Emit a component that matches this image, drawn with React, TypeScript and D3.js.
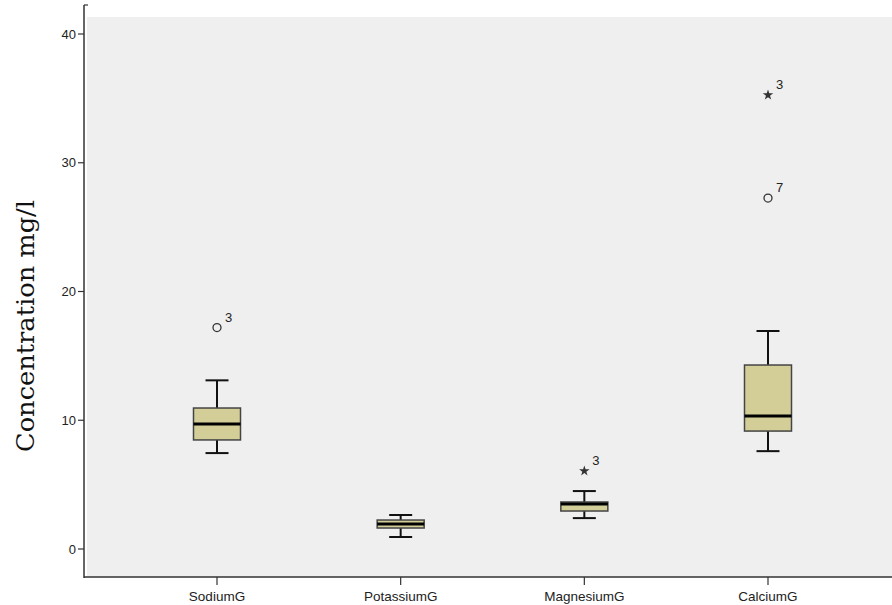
import React from "react";
import * as d3 from "d3";

const categories = ["SodiumG", "PotassiumG", "MagnesiumG", "CalciumG"];
const lowerWhisker = [7.45, 0.93, 2.4, 7.6];
const q1 = [8.47, 1.63, 2.95, 9.16];
const median = [9.7, 1.94, 3.5, 10.33];
const q3 = [10.95, 2.25, 3.65, 14.29];
const upperWhisker = [13.1, 2.64, 4.5, 16.93];
// outliers: category, value, label, kind
const outlierCat = ["SodiumG", "MagnesiumG", "CalciumG", "CalciumG"];
const outlierValue = [17.2, 6.06, 35.26, 27.26];
const outlierLabel = ["3", "3", "3", "7"];
const outlierKind = ["circle", "star", "star", "circle"];
const yTicks = [0, 10, 20, 30, 40];

const W = 892;
const H = 605;

export default function App() {
  const y = d3.scaleLinear().domain([0, 40]).range([549, 34]);
  const x = d3.scalePoint<string>().domain(categories).range([217, 768]);
  const boxW = 47;
  const capW = 23;
  const axisX = 84;
  const axisY = 577;
  const tickFont = "'Liberation Sans Narrow', 'Arial Narrow', 'Liberation Sans', Arial, sans-serif";
  const starPath = d3.symbol(d3.symbolStar, 34)() as string;

  return (
    <svg width={W} height={H} style={{ position: "absolute", left: 0, top: 0, background: "#fff" }}>
      <rect x={axisX + 3} y={17} width={W - axisX - 3} height={axisY - 17} fill="#efefef" />
      {/* y axis */}
      <line x1={axisX} x2={axisX} y1={5} y2={axisY + 1} stroke="#333" strokeWidth={1.5} />
      <line x1={axisX} x2={axisX + 4} y1={5} y2={5} stroke="#333" strokeWidth={1.2} />
      {yTicks.map((t) => (
        <g key={t}>
          <line x1={axisX - 6} x2={axisX} y1={y(t)} y2={y(t)} stroke="#333" strokeWidth={1.2} />
          <text x={axisX - 8} y={y(t)} dy="0.35em" textAnchor="end" fontSize={13} fontFamily={tickFont} fill="#222">
            {t}
          </text>
        </g>
      ))}
      {/* x axis */}
      <line x1={axisX} x2={W} y1={axisY} y2={axisY} stroke="#333" strokeWidth={1.5} />
      {categories.map((c) => (
        <g key={c}>
          <line x1={x(c)} x2={x(c)} y1={axisY} y2={axisY + 8} stroke="#333" strokeWidth={1.2} />
          <text x={x(c)} y={596} dy="0.35em" textAnchor="middle" fontSize={13.5} fontFamily={tickFont} fill="#222">
            {c}
          </text>
        </g>
      ))}
      {/* y label */}
      <text
        transform={`translate(34,${(200 + 452) / 2}) rotate(-90)`}
        textAnchor="middle"
        fontSize={24}
        fontFamily="'DejaVu Serif', 'Liberation Serif', serif"
        fill="#111"
        textLength={252}
        lengthAdjust="spacingAndGlyphs"
      >
        Concentration mg/l
      </text>
      {/* boxes */}
      {categories.map((c, i) => {
        const cx = x(c)!;
        return (
          <g key={c}>
            <line x1={cx} x2={cx} y1={y(upperWhisker[i])} y2={y(q3[i])} stroke="#111" strokeWidth={2} />
            <line x1={cx} x2={cx} y1={y(q1[i])} y2={y(lowerWhisker[i])} stroke="#111" strokeWidth={2} />
            <line x1={cx - capW / 2} x2={cx + capW / 2} y1={y(upperWhisker[i])} y2={y(upperWhisker[i])} stroke="#111" strokeWidth={2} />
            <line x1={cx - capW / 2} x2={cx + capW / 2} y1={y(lowerWhisker[i])} y2={y(lowerWhisker[i])} stroke="#111" strokeWidth={2} />
            <rect
              x={cx - boxW / 2}
              y={y(q3[i])}
              width={boxW}
              height={y(q1[i]) - y(q3[i])}
              fill="#d3ce98"
              stroke="#444"
              strokeWidth={1.5}
            />
            <line x1={cx - boxW / 2} x2={cx + boxW / 2} y1={y(median[i])} y2={y(median[i])} stroke="#000" strokeWidth={3} />
          </g>
        );
      })}
      {/* outliers */}
      {outlierValue.map((v, i) => {
        const cx = x(outlierCat[i])!;
        const cy = y(v);
        return (
          <g key={i}>
            {outlierKind[i] === "circle" ? (
              <circle cx={cx} cy={cy} r={4} fill="none" stroke="#333" strokeWidth={1.3} />
            ) : (
              <path d={starPath} transform={`translate(${cx},${cy})`} fill="#333" />
            )}
            <text x={cx + 8} y={cy - 6} fontSize={13} fontFamily={tickFont} fill="#222">
              {outlierLabel[i]}
            </text>
          </g>
        );
      })}
    </svg>
  );
}
